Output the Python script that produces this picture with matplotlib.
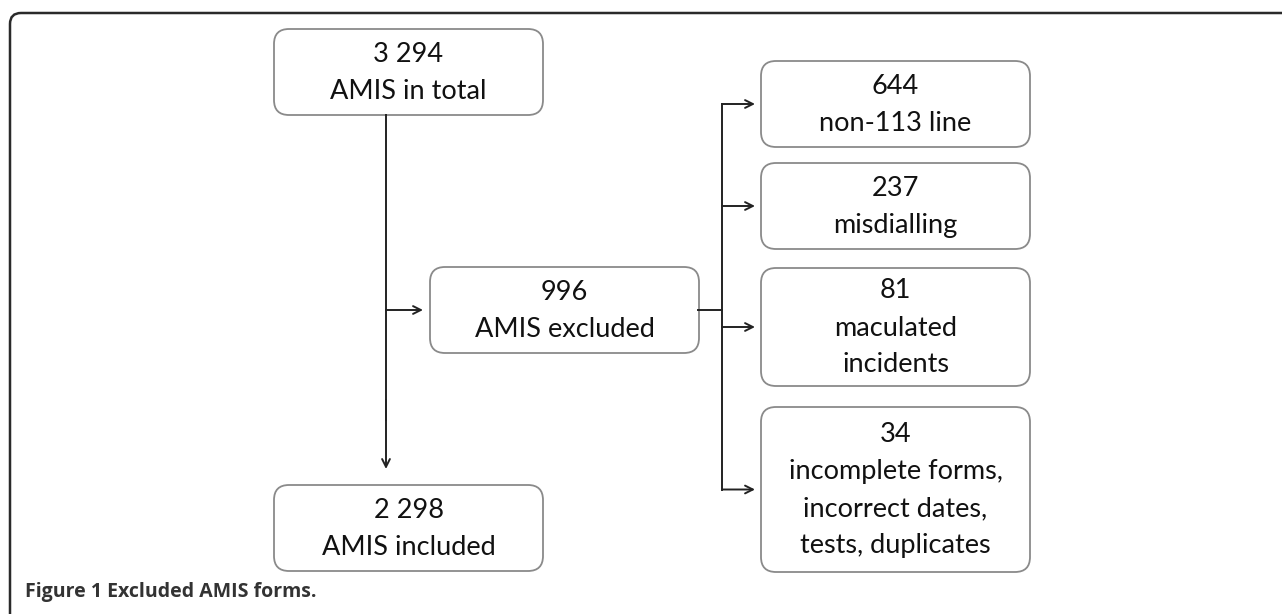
import matplotlib.pyplot as plt
from matplotlib.patches import FancyBboxPatch, PathPatch
from matplotlib.path import Path

# flow counts
total = 3294
excluded = 996
included = 2298
reason_counts = [644, 237, 81, 34]
reason_labels = [
    ["non-113 line"],
    ["misdialling"],
    ["maculated", "incidents"],
    ["incomplete forms,", "incorrect dates,", "tests, duplicates"],
]
caption = "Figure 1 Excluded AMIS forms."


def fmt(n):
    return f"{n:,}".replace(",", " ")


W, H = 1282, 614
fig = plt.figure(figsize=(W / 100, H / 100), dpi=100)
ax = fig.add_axes([0, 0, 1, 1])
ax.set_xlim(0, W)
ax.set_ylim(H, 0)
ax.axis("off")

FONT = "Lato"
LINE_H = 37
BOX_W = 269


def box(x, y, h, lines):
    p = FancyBboxPatch((x, y), BOX_W, h, boxstyle="round,pad=0,rounding_size=15",
                       fc="white", ec="#8a8a8a", lw=1.3)
    ax.add_patch(p)
    cy = y + h / 2
    n = len(lines)
    for i, t in enumerate(lines):
        ty = cy + (i - (n - 1) / 2) * LINE_H + 1
        ax.text(x + BOX_W / 2, ty, t, ha="center", va="center",
                fontsize=19.5, family=FONT, color="#111111")


def arrow(x0, y0, x1, y1):
    ax.annotate("", xy=(x1, y1), xytext=(x0, y0),
                arrowprops=dict(arrowstyle="->", lw=1.4, color="#222222",
                                shrinkA=0, shrinkB=0, mutation_scale=14))


# outer frame (top + left, rounded corner)
r = 11
frame = Path([(10, H + 5), (10, 13 + r), (10, 13), (10 + r, 13), (W + 5, 13)],
             [Path.MOVETO, Path.LINETO, Path.CURVE3, Path.CURVE3, Path.LINETO])
ax.add_patch(PathPatch(frame, fc="none", ec="#2a2a2a", lw=1.8))

# boxes
box(274, 29, 86, [fmt(total), "AMIS in total"])
box(430, 267, 86, [fmt(excluded), "AMIS excluded"])
box(274, 485, 86, [fmt(included), "AMIS included"])

right_x = 761
right_y = [61, 163, 268, 407]
right_h = [86, 86, 118, 165]
for yy, hh, c, lab in zip(right_y, right_h, reason_counts, reason_labels):
    box(right_x, yy, hh, [fmt(c)] + lab)

# connectors
ax.plot([386, 386], [115, 420], color="#222222", lw=1.4)
arrow(386, 400, 386, 469)
arrow(386, 310, 423, 310)

trunk_x = 722
tips = [yy + hh / 2 for yy, hh in zip(right_y, right_h)]
ax.plot([trunk_x, trunk_x], [tips[0], tips[-1]], color="#222222", lw=1.4)
ax.plot([698, trunk_x], [310, 310], color="#222222", lw=1.4)
for t in tips:
    arrow(trunk_x, t, right_x - 6, t)

# caption
ax.text(25, 592, caption, ha="left", va="center", fontsize=14,
        family="Open Sans", weight="bold", color="#333333")

fig.savefig("out.png", dpi=100)
